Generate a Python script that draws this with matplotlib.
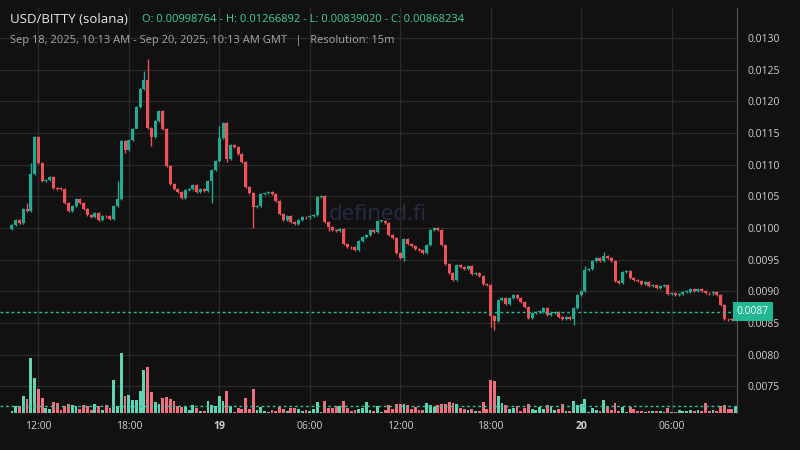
import matplotlib
matplotlib.use("Agg")
import matplotlib.pyplot as plt
from matplotlib.patches import Rectangle
import numpy as np

first_open = 0.009988
closes = [
0.010047,0.010126,0.010079,0.010300,0.010268,0.010853,0.011437,0.011026,0.010742,0.010758,
0.010805,0.010631,0.010625,0.010620,0.010395,0.010268,0.010347,0.010458,0.010395,0.010300,
0.010205,0.010174,0.010237,0.010126,0.010189,0.010185,0.010142,0.010347,0.010458,0.011374,
0.011232,0.011389,0.011563,0.011911,0.012195,0.012337,0.011579,0.011437,0.011689,0.011847,
0.011563,0.010979,0.010695,0.010616,0.010568,0.010474,0.010600,0.010616,0.010679,0.010568,
0.010616,0.010584,0.010742,0.010916,0.011058,0.011421,0.011658,0.011089,0.011310,0.011279,
0.011168,0.011042,0.010647,0.010553,0.010331,0.010347,0.010537,0.010553,0.010568,0.010537,
0.010426,0.010221,0.010126,0.010189,0.010095,0.010063,0.010126,0.010174,0.010170,0.010189,
0.010205,0.010489,0.010505,0.010095,0.010016,0.009968,0.009960,0.009984,0.009747,0.009700,
0.009695,0.009653,0.009795,0.009858,0.009889,0.009968,0.009937,0.010110,0.010115,0.010079,
0.009889,0.009842,0.009605,0.009526,0.009826,0.009747,0.009716,0.009668,0.009653,0.009605,
0.009731,0.009968,0.010000,0.009968,0.009731,0.009431,0.009289,0.009179,0.009416,0.009384,
0.009353,0.009400,0.009274,0.009289,0.009242,0.009116,0.009100,0.008610,0.008531,0.008863,
0.008895,0.008800,0.008895,0.008942,0.008895,0.008831,0.008752,0.008579,0.008658,0.008674,
0.008680,0.008737,0.008626,0.008658,0.008665,0.008595,0.008563,0.008595,0.008563,0.008737,
0.008942,0.009005,0.009337,0.009353,0.009479,0.009526,0.009479,0.009558,0.009526,0.009479,
0.009163,0.009131,0.009305,0.009321,0.009210,0.009179,0.009163,0.009116,0.009147,0.009084,
0.009100,0.009052,0.009084,0.009100,0.008958,0.008974,0.008942,0.008958,0.008989,0.008995,
0.009037,0.009005,0.009037,0.009005,0.008974,0.008970,0.008989,0.008942,0.008784,0.008563,
0.008560,0.008547,0.008682]

wick_hi = {4: 0.01040, 5: 0.01103, 35: 0.01248, 36: 0.012669, 55: 0.01162, 28: 0.01075,
           152: 0.00940, 157: 0.00962}
wick_lo = {30: 0.01118, 33: 0.01159, 37: 0.01129, 53: 0.01040, 57: 0.01104, 64: 0.01000,
           84: 0.00995, 127: 0.00844, 128: 0.008390, 149: 0.00847, 104: 0.00948}

volumes = [
6,21,21,51,42,165,105,72,45,15,12,33,30,9,21,27,24,21,12,24,21,9,27,21,9,24,15,99,21,180,
51,54,39,39,66,129,138,63,33,27,45,48,42,36,21,18,18,9,24,15,6,6,36,24,21,51,36,66,21,3,
15,12,45,12,72,
9,18,6,3,9,6,18,12,6,15,15,12,6,9,6,12,33,3,36,15,15,21,21,36,15,6,9,12,15,33,
9,6,21,3,9,24,12,27,27,27,24,12,18,9,9,30,24,18,24,27,27,33,30,27,15,12,9,12,6,6,
33,12,99,96,51,
30,24,12,15,21,6,15,27,12,9,18,12,24,21,9,12,27,6,6,36,24,27,42,3,15,9,6,39,18,9,
30,6,18,3,18,12,6,6,3,6,6,6,6,3,15,3,3,9,6,6,9,6,9,6,30,6,9,6,21,24,12,12,21]
vol_avg = 20

tick_idx = [7, 31, 55, 79, 103, 127, 151, 175]
tick_labels = ["12:00", "18:00", "19", "06:00", "12:00", "18:00", "20", "06:00"]
price_ticks = [0.0075, 0.0080, 0.0085, 0.0090, 0.0095, 0.0100, 0.0105, 0.0110,
               0.0115, 0.0120, 0.0125, 0.0130]
last_price = 0.00868234

BG = "#111111"; GRID = "#2b2b2b"
UP = "#22ab94"; DN = "#f0525a"
VUP = "#5fd3b4"; VDN = "#ef6f7f"

n = len(closes)
opens = [first_open] + closes[:-1]
while len(volumes) < n:
    volumes.append(6)
volumes = volumes[:n]

fig = plt.figure(figsize=(8, 4.5), dpi=100, facecolor=BG)
ax = fig.add_axes([0.0, 0.082, 0.921, 0.9])
ax.set_facecolor(BG)
xmin, xmax = -3.18, 192.3
ax.set_xlim(xmin, xmax)
ax.set_ylim(0.007079, 0.013474)

for t in tick_idx:
    ax.axvline(t, color=GRID, lw=0.9, zorder=0)
for p in price_ticks:
    ax.axhline(p, color=GRID, lw=0.9, zorder=0)

ax.text(0.513, 0.49, "defined.fi", transform=ax.transAxes, fontsize=16, color="#262a45",
        ha="center", va="center", fontfamily="Open Sans", zorder=1)

vax = ax.twinx()
vax.set_ylim(0, 1215)
vax.set_xlim(xmin, xmax)
vax.axis("off")
vcol = [VUP if c >= o else VDN for o, c in zip(opens, closes)]
vax.bar(range(n), volumes, width=0.75, color=vcol, zorder=1)
vax.axhline(vol_avg, color="#2ec4a0", lw=1, ls=(0, (2, 2)))

w = 0.8
for i, (o, c) in enumerate(zip(opens, closes)):
    col = UP if c >= o else DN
    hi = wick_hi.get(i, max(o, c) + 0.00002)
    lo = wick_lo.get(i, min(o, c) - 0.00002)
    ax.vlines(i, lo, hi, color=col, lw=1, zorder=3)
    h = max(abs(c - o), 0.000012)
    ax.add_patch(Rectangle((i - w / 2, min(o, c)), w, h, color=col, zorder=4, lw=0))

ax.axhline(last_price, color="#1fc59a", lw=1, ls=(0, (2, 2)), zorder=5)

ax.yaxis.tick_right()
ax.set_yticks(price_ticks)
ax.set_yticklabels([f"{p:.4f}" for p in price_ticks], color="#d0d0d0", fontsize=7.5,
                   fontfamily="Open Sans")
ax.set_xticks(tick_idx)
ax.set_xticklabels(tick_labels, color="#d0d0d0", fontsize=7.5, fontfamily="Open Sans")
for lbl in ax.get_xticklabels():
    if lbl.get_text() in ("19", "20"):
        lbl.set_fontweight("bold")
ax.tick_params(length=0, pad=6)
ax.tick_params(axis="y", pad=8)
for s in ax.spines.values():
    s.set_visible(False)
ax.spines["right"].set_visible(True)
ax.spines["right"].set_color("#555555")

ax.text(1.0, last_price, f"{last_price:.4f}", transform=ax.get_yaxis_transform(),
        ha="left", va="center", fontsize=7.5, color="#ffffff", fontfamily="Open Sans",
        bbox=dict(boxstyle="square,pad=0.35", fc="#1fb892", ec="none"), zorder=10,
        clip_on=False)

fig.text(0.012, 0.957, "USD/BITTY (solana)", color="#e8e8e8", fontsize=9.5,
         fontfamily="Open Sans", va="center")
fig.text(0.178, 0.957, "O: 0.00998764 - H: 0.01266892 - L: 0.00839020 - C: 0.00868234",
         color="#3ecfa5", fontsize=8, fontfamily="Open Sans", va="center")
fig.text(0.012, 0.91, "Sep 18, 2025, 10:13 AM - Sep 20, 2025, 10:13 AM GMT   |   Resolution: 15m",
         color="#a8a8a8", fontsize=8, fontfamily="Open Sans", va="center")

fig.savefig("out.png", dpi=100, facecolor=BG)
